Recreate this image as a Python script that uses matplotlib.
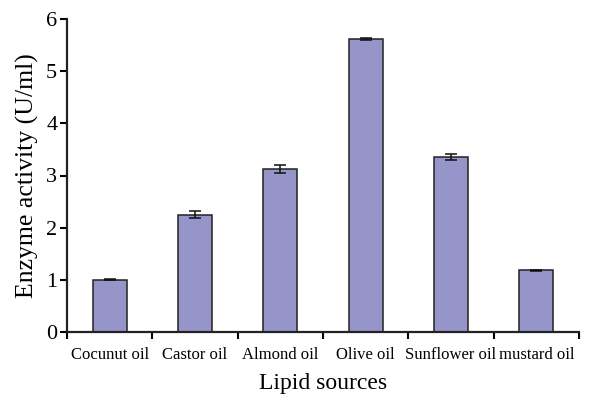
import matplotlib
matplotlib.use("Agg")
import matplotlib.pyplot as plt
import numpy as np

categories = ["Cocunut oil", "Castor oil", "Almond oil", "Olive oil", "Sunflower oil", "mustard oil"]
values = [1.00, 2.25, 3.12, 5.62, 3.35, 1.18]
errors = [0.01, 0.06, 0.08, 0.02, 0.06, 0.01]
yticks = [0, 1, 2, 3, 4, 5, 6]

plt.rcParams['font.family'] = ['Liberation Serif', 'DejaVu Serif']

fig = plt.figure(figsize=(5.9, 3.98), dpi=100)
ax = fig.add_axes([67/590, 1-332/398, (579-67)/590, (332-19)/398])

x = np.arange(len(categories))
ax.bar(x, values, width=0.4, color='#9595C9', edgecolor='#222222', linewidth=1.1,
       yerr=errors, capsize=4, error_kw=dict(ecolor='#111111', elinewidth=1.1, capthick=1.1), zorder=2)

ax.set_xlim(-0.5, len(categories) - 0.5)
ax.set_ylim(0, 6)
ax.set_yticks(yticks)
ax.set_yticklabels([str(t) for t in yticks], fontsize=16)

ax.set_xticks(x)
ax.set_xticklabels(categories, fontsize=12)
ax.tick_params(axis='x', which='major', length=0, pad=11)
ax.set_xticks(np.arange(-0.5, len(categories)), minor=True)
ax.tick_params(axis='x', which='minor', length=5, width=1.5, direction='out')
ax.tick_params(axis='y', length=5, width=1.5, direction='out', pad=2)

for s in ['top', 'right']:
    ax.spines[s].set_visible(False)
for s in ['left', 'bottom']:
    ax.spines[s].set_linewidth(1.6)
    ax.spines[s].set_color('#222222')

ax.set_ylabel("Enzyme activity (U/ml)", fontsize=18.5, labelpad=5)
ax.set_xlabel("Lipid sources", fontsize=17, labelpad=7)

fig.savefig("out.png", dpi=100)
